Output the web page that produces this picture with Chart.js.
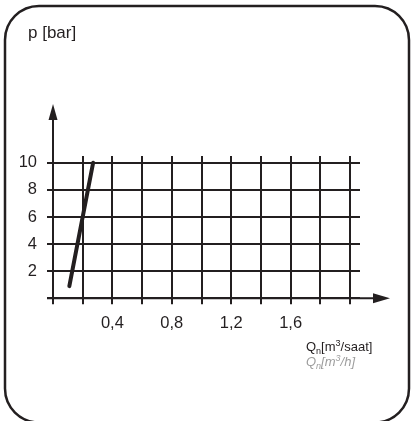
<!DOCTYPE html>
<html>
<head>
<meta charset="utf-8">
<script src="https://cdn.jsdelivr.net/npm/chart.js@4.4.1/dist/chart.umd.min.js"></script>
<style>
  html, body { margin: 0; padding: 0; background: #fff; }
  #wrap { width: 411px; height: 421px; position: relative; }
</style>
</head>
<body>
<div id="wrap"><canvas id="chart"></canvas></div>
<script>
// data
const curveQ = [0.11, 0.27];      // Qn [m3/h]
const curveP = [0.9, 10];         // p [bar]
const xTickValues = [0.4, 0.8, 1.2, 1.6];
const xTickLabels = ['0,4', '0,8', '1,2', '1,6'];
const yTickValues = [2, 4, 6, 8, 10];
const yTickLabels = ['2', '4', '6', '8', '10'];
const yTitle = 'p [bar]';
const xTitle = ['Q', 'n', '[m', '3', '/saat]'];
const xTitleAlt = ['Q', 'n', '[m', '3', '/h]'];

const ink = '#231f20';
const fontFamily = "'Liberation Sans', Arial, Helvetica, sans-serif";

function tickText(list, labels, value) {
  const i = list.findIndex(v => Math.abs(v - value) < 1e-6);
  return i >= 0 ? labels[i] : '';
}

function drawSubSup(ctx, parts, x, y, size, style, color) {
  ctx.fillStyle = color;
  ctx.textBaseline = 'alphabetic';
  ctx.textAlign = 'left';
  const small = Math.round(size * 0.7);
  parts.forEach((p, i) => {
    let s = size, dy = 0;
    if (i === 1) { s = small; dy = 3; }
    if (i === 3) { s = small; dy = -5; }
    ctx.font = style + s + 'px ' + fontFamily;
    ctx.fillText(p, x, y + dy);
    x += ctx.measureText(p).width;
  });
}

const decor = {
  id: 'decor',
  beforeDraw(chart) {
    const ctx = chart.ctx;
    ctx.save();
    ctx.fillStyle = '#fff';
    ctx.fillRect(0, 0, chart.width, chart.height);
    ctx.restore();
  },
  afterDraw(chart) {
    const ctx = chart.ctx;
    const a = chart.chartArea;
    const xs = chart.scales.x, ys = chart.scales.y;
    const x0 = xs.getPixelForValue(0);
    const y0 = ys.getPixelForValue(0);
    ctx.save();

    // rounded frame (bottom edge sits just below the picture)
    ctx.strokeStyle = ink;
    ctx.lineWidth = 2.5;
    ctx.beginPath();
    ctx.roundRect(5, 6, 404, 416.5, 34);
    ctx.stroke();

    // axes with arrows
    ctx.lineWidth = 2;
    ctx.beginPath();
    ctx.moveTo(x0, a.bottom + 5);
    ctx.lineTo(x0, a.top - 38);
    ctx.moveTo(x0 - 6, y0);
    ctx.lineTo(a.right + 15, y0);
    ctx.stroke();
    ctx.fillStyle = ink;
    ctx.beginPath();
    ctx.moveTo(x0, a.top - 52);
    ctx.lineTo(x0 - 4.5, a.top - 36);
    ctx.lineTo(x0 + 4.5, a.top - 36);
    ctx.closePath();
    ctx.fill();
    ctx.beginPath();
    ctx.moveTo(a.right + 30, y0);
    ctx.lineTo(a.right + 13, y0 - 5);
    ctx.lineTo(a.right + 13, y0 + 5);
    ctx.closePath();
    ctx.fill();

    // titles
    ctx.fillStyle = ink;
    ctx.font = '17px ' + fontFamily;
    ctx.textBaseline = 'alphabetic';
    ctx.fillText(yTitle, 28, 38);
    drawSubSup(ctx, xTitle, 306, 351, 13, '', ink);
    drawSubSup(ctx, xTitleAlt, 306, 366, 13, 'italic ', '#9d9d9d');
    ctx.restore();
  }
};

new Chart(document.getElementById('chart'), {
  type: 'line',
  data: {
    datasets: [{
      data: curveQ.map((q, i) => ({ x: q, y: curveP[i] })),
      borderColor: ink,
      borderWidth: 4,
      borderCapStyle: 'round',
      pointRadius: 0,
      tension: 0
    }]
  },
  options: {
    responsive: true,
    maintainAspectRatio: false,
    animation: false,
    events: [],
    layout: { padding: { top: 156, left: 0, right: 51, bottom: 0 } },
    plugins: { legend: { display: false }, tooltip: { enabled: false } },
    scales: {
      x: {
        type: 'linear',
        min: 0,
        max: 2.067,
        afterFit(s) { s.height = 122.7; },
        border: { display: false },
        grid: { color: ink, lineWidth: 2, drawTicks: true, tickLength: 6, tickColor: ink },
        ticks: {
          stepSize: 0.2,
          includeBounds: false,
          autoSkip: false,
          maxRotation: 0,
          padding: 9,
          color: ink,
          font: { family: fontFamily, size: 16.5 },
          callback: v => tickText(xTickValues, xTickLabels, v)
        }
      },
      y: {
        type: 'linear',
        min: 0,
        max: 10.5,
        afterFit(s) { s.width = 53; },
        border: { display: false },
        grid: { color: ink, lineWidth: 2, drawTicks: true, tickLength: 6, tickColor: ink },
        ticks: {
          stepSize: 2,
          includeBounds: false,
          autoSkip: false,
          padding: 10,
          color: ink,
          font: { family: fontFamily, size: 16.5 },
          callback: v => tickText(yTickValues, yTickLabels, v)
        }
      }
    }
  },
  plugins: [decor]
});
</script>
</body>
</html>
